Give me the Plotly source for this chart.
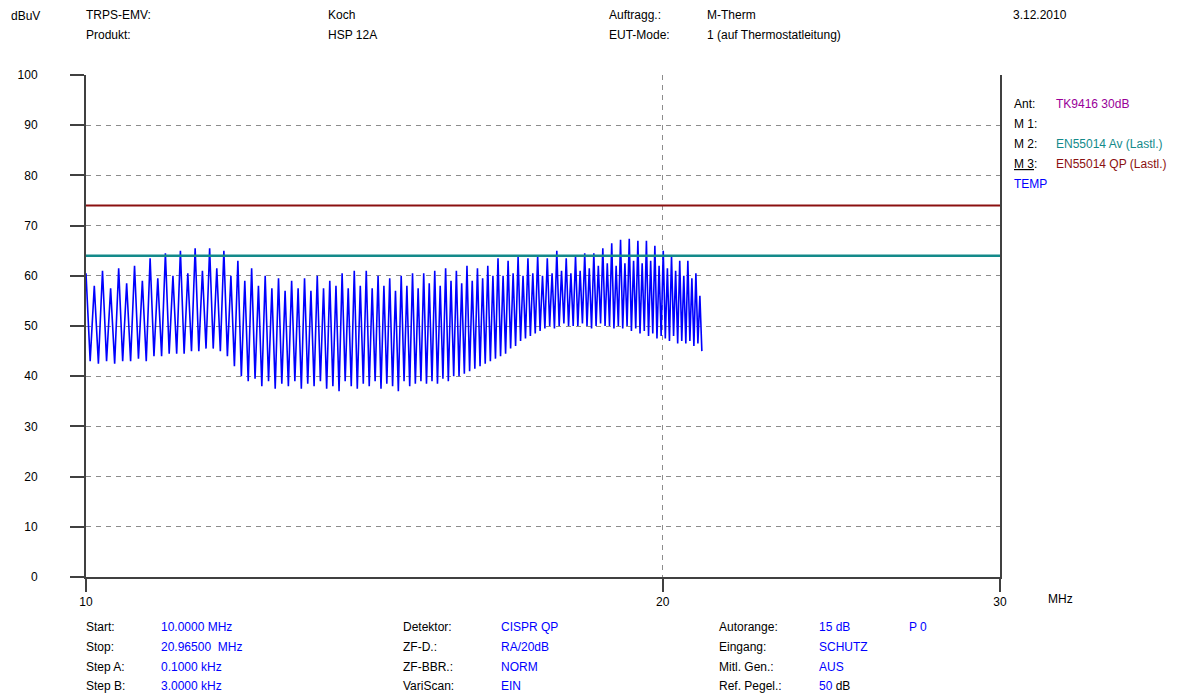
import numpy as np
import plotly.graph_objects as go

# scan range (MHz)
f_start = 10.0
f_stop = 20.965

# peak values (dBuV), alternating tall / secondary peak
peaks = [
    60.5, 58, 61, 57.5, 61.5, 58.5, 62, 59, 63.5, 59.5,
    64.5, 60, 65, 60.5, 65.5, 61, 65.5, 61.5, 65, 60,
    63, 59, 61.5, 58, 60, 57.5, 59.5, 57, 59, 57.5,
    59.5, 57, 60, 57.5, 59, 58, 60.5, 57.5, 61, 58,
    61, 57.5, 60, 58, 59.5, 57, 60, 58, 60.5, 57.5,
    60.5, 58.5, 61, 58, 61.5, 59, 61, 58.5, 62, 59,
    61.5, 59.5, 62, 60, 63.5, 60, 63, 60.5, 63.8, 60,
    63.5, 60.5, 64, 60, 63.5, 60.5, 65, 61, 63.5, 60.5,
    64, 61, 64.5, 61.5, 64.5, 62, 65.5, 62.5, 66.5, 62,
    67.2, 62.5, 67.4, 63, 67, 62.5, 67, 63, 66, 62,
    65, 61.5, 64, 61, 63, 60, 63, 59.5, 60.5, 56,
]

# trough values following each peak
troughs = [
    43, 42.5, 43, 42.5, 43, 43, 43.5, 43, 44, 44,
    44.5, 44.5, 44.5, 45, 45, 45.5, 45.5, 45, 44, 42,
    40, 39, 39.5, 38, 39, 37.5, 38.5, 38, 39, 37.5,
    38.5, 38, 39, 37.5, 38, 37, 39, 38, 37.5, 38.5,
    38, 39, 37.5, 38.5, 38, 37, 39, 38, 38.5, 39,
    38.5, 39, 38.5, 39.5, 39, 40, 40, 40.5, 41, 41.5,
    42, 42.5, 43, 43.5, 44, 44.5, 45.5, 46, 47, 47.5,
    48, 48.5, 49, 49.5, 50, 49.5, 50, 50.5, 50, 50,
    50, 50.5, 50, 49.5, 50, 50.5, 50, 50, 49.5, 50,
    49.5, 50, 49, 49.5, 48.5, 49, 48, 48.5, 47.5, 48,
    47.5, 47, 48, 46.5, 47, 46.5, 47, 46, 46.5, 45,
]

limit_qp = 74  # EN55014 QP
limit_av = 64  # EN55014 Av

level = []
for p, t in zip(peaks, troughs):
    level += [p, t]
freq = np.linspace(f_start, f_stop, len(level))

fig = go.Figure()
fig.add_trace(go.Scatter(x=freq, y=level, mode='lines',
                         line=dict(color='#0000ff', width=1.6)))
fig.add_trace(go.Scatter(x=[10, 30], y=[limit_av, limit_av], mode='lines',
                         line=dict(color='#138a8a', width=2.5)))
fig.add_trace(go.Scatter(x=[10, 30], y=[limit_qp, limit_qp], mode='lines',
                         line=dict(color='#8b1010', width=2)))

# page has an 8px body margin, so the figure itself is 8px smaller
OFF = 8
L, R, T, B = 86 - OFF, 180, 75 - OFF, 118
W, H = 1180 - OFF, 695 - OFF
FS = 12


def px(x, y):
    # page pixel -> paper coords
    x -= OFF
    y -= OFF
    return (x - L) / (W - L - R), (H - B - y) / (H - T - B)


def txt(x, y, s, color='#000000'):
    xx, yy = px(x, y)
    fig.add_annotation(x=xx, y=yy, xref='paper', yref='paper', text=s,
                       showarrow=False, xanchor='left', yanchor='middle',
                       font=dict(color=color, size=FS))


blue = '#0000ff'
txt(9, 16, 'dBuV')
txt(84, 15, 'TRPS-EMV:')
txt(84, 35, 'Produkt:')
txt(326, 15, 'Koch')
txt(326, 35, 'HSP 12A')
txt(607, 15, 'Auftragg.:')
txt(607, 35, 'EUT-Mode:')
txt(705, 15, 'M-Therm')
txt(705, 35, '1 (auf Thermostatleitung)')
txt(1011, 15, '3.12.2010')

txt(1012, 104, 'Ant:')
txt(1054, 104, 'TK9416 30dB', '#990099')
txt(1012, 124, 'M 1:')
txt(1012, 144, 'M 2:')
txt(1054, 144, 'EN55014 Av (Lastl.)', '#138a8a')
txt(1012, 164, '<u>M 3</u>:')
txt(1054, 164, 'EN55014 QP (Lastl.)', '#8b1010')
txt(1012, 184, 'TEMP', blue)

txt(1046, 599, 'MHz')

rows = [627, 647, 667, 686]
for y, a, b in zip(rows, ['Start:', 'Stop:', 'Step A:', 'Step B:'],
                   ['10.0000 MHz', '20.96500&nbsp; MHz', '0.1000 kHz', '3.0000 kHz']):
    txt(84, y, a)
    txt(159, y, b, blue)
for y, a, b in zip(rows, ['Detektor:', 'ZF-D.:', 'ZF-BBR.:', 'VariScan:'],
                   ['CISPR QP', 'RA/20dB', 'NORM', 'EIN']):
    txt(401, y, a)
    txt(499, y, b, blue)
for y, a, b in zip(rows, ['Autorange:', 'Eingang:', 'Mitl. Gen.:', 'Ref. Pegel.:'],
                   ['15 dB', 'SCHUTZ', 'AUS', '<span style="color:#0000ff">50</span> dB']):
    txt(717, y, a)
    txt(817, y, b, blue if not b.startswith('<span') else '#000000')
txt(907, 627, 'P 0', blue)

grid = dict(showgrid=True, gridcolor='#8c8c8c', gridwidth=1, griddash='5px,5px',
            showline=True, linecolor='#404040', linewidth=2, zeroline=False,
            ticks='outside', tickwidth=2, tickcolor='#404040', automargin=False,
            tickfont=dict(size=FS, color='#000000'))

fig.update_xaxes(type='log', range=[1, np.log10(30)], tickvals=[10, 20, 30],
                 ticktext=['10', '20', '30'], ticklen=13, **grid)
fig.update_yaxes(range=[0, 100], tick0=0, dtick=10, ticklen=14, mirror=True,
                 ticklabelstandoff=30, **grid)

fig.update_layout(
    width=W, height=H, autosize=False,
    margin=dict(l=L, r=R, t=T, b=B),
    plot_bgcolor='white', paper_bgcolor='white',
    showlegend=False,
    font=dict(family='Liberation Sans, Arial, sans-serif', size=FS, color='#000000'),
)

fig.write_html("out.html")
